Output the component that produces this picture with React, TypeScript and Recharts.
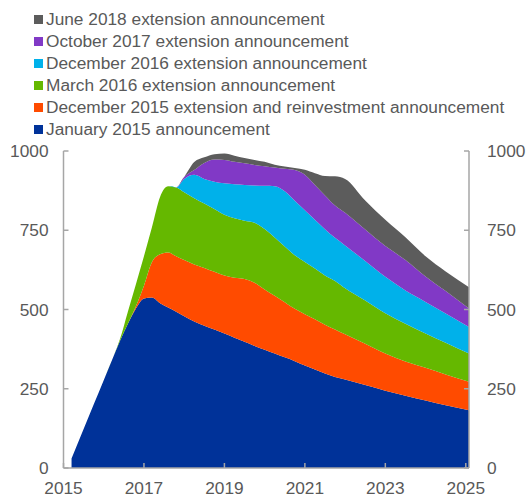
import React from "react";
import { AreaChart, Area, XAxis, YAxis, Legend } from "recharts";

// decimal years
const years = [
  2015.2, 2015.5, 2015.75, 2016.0, 2016.25, 2016.4, 2016.6, 2016.8, 2017.0, 2017.2, 2017.4, 2017.6,
  2017.8, 2018.0, 2018.25, 2018.5, 2018.75, 2019.0, 2019.25, 2019.5, 2019.75, 2020.0, 2020.25,
  2020.5, 2020.75, 2021.0, 2021.25, 2021.5, 2021.75, 2022.0, 2022.5, 2023.0, 2023.5, 2024.0,
  2024.5, 2025.08,
];

const jan2015 = [
  30, 123, 200, 277, 354, 400, 455, 503, 535, 538, 520, 506, 493, 479, 462, 449, 437, 424, 411, 398,
  385, 373, 361, 349, 337, 323, 311, 298, 287, 279, 262, 244, 228, 213, 198, 182,
];
const dec2015 = [
  0, 0, 0, 0, 0, 0, 0, 7, 40, 112, 154, 174, 175, 177, 180, 182, 182, 183, 189, 198, 199, 190, 182,
  174, 165, 162, 158, 154, 150, 143, 130, 117, 108, 103, 97, 90,
];
const mar2016 = [
  0, 0, 0, 0, 0, 5, 38, 70, 93, 110, 181, 209, 217, 214, 209, 203, 198, 192, 188, 184, 190, 191, 184,
  176, 169, 165, 160, 155, 153, 145, 136, 127, 119, 108, 100, 89,
];
const dec2016 = [
  0, 0, 0, 0, 0, 0, 0, 0, 0, 0, 0, 0, 0, 42, 74, 78, 86, 99, 107, 113, 117, 136, 162, 174, 172, 163,
  154, 146, 136, 135, 125, 115, 105, 100, 92, 84,
];
const oct2017 = [
  0, 0, 0, 0, 0, 0, 0, 0, 0, 0, 0, 0, 0, 6, 15, 50, 70, 74, 71, 68, 65, 62, 59, 71, 97, 112, 110, 107,
  102, 103, 99, 97, 96, 80, 71, 58,
];
const jun2018 = [
  0, 0, 0, 0, 0, 0, 0, 0, 0, 0, 0, 0, 0, 0, 25, 18, 17, 20, 19, 17, 16, 14, 9, 7, 6, 16, 37, 61, 92,
  107, 92, 83, 72, 64, 62, 67,
];

const xTicks = [2015, 2017, 2019, 2021, 2023, 2025];
const yTicks = [0, 250, 500, 750, 1000];

const SERIES = [
  { key: "jan2015", name: "January 2015 announcement", color: "#003299", values: jan2015 },
  { key: "dec2015", name: "December 2015 extension and reinvestment announcement", color: "#FF4B00", values: dec2015 },
  { key: "mar2016", name: "March 2016 extension announcement", color: "#65B800", values: mar2016 },
  { key: "dec2016", name: "December 2016 extension announcement", color: "#00B1EA", values: dec2016 },
  { key: "oct2017", name: "October 2017 extension announcement", color: "#8139C6", values: oct2017 },
  { key: "jun2018", name: "June 2018 extension announcement", color: "#5C5C5C", values: jun2018 },
];

const data = years.map((t, i) => {
  const row: Record<string, number> = { t };
  SERIES.forEach((s) => (row[s.key] = s.values[i]));
  return row;
});

const FONT = '"Liberation Sans", Arial, sans-serif';
const TEXT = "#595959";
const AXIS = "#A6A6A6";
const FS = 17.3;

function LegendBox() {
  return (
    <div style={{ height: 143, fontFamily: FONT, fontSize: FS, color: TEXT }}>
      {[...SERIES].reverse().map((s) => (
        <div key={s.key} style={{ display: "flex", alignItems: "center", height: 21.9, whiteSpace: "nowrap" }}>
          <span style={{ display: "inline-block", width: 9, height: 9, background: s.color, marginRight: 3 }} />
          <span>{s.name}</span>
        </div>
      ))}
    </div>
  );
}

function LeftTick({ x, y, payload }: any) {
  return (
    <g>
      <line x1={x} x2={x + 5} y1={y} y2={y} stroke={AXIS} strokeWidth={1.5} />
      <text x={x - 15} y={y} dy="0.35em" textAnchor="end" fill={TEXT} fontSize={FS} fontFamily={FONT}>
        {payload.value}
      </text>
    </g>
  );
}

function RightTick({ x, y, payload }: any) {
  return (
    <g>
      <line x1={x} x2={x - 5} y1={y} y2={y} stroke={AXIS} strokeWidth={1.5} />
      <text x={x + 18} y={y} dy="0.35em" textAnchor="start" fill={TEXT} fontSize={FS} fontFamily={FONT}>
        {payload.value}
      </text>
    </g>
  );
}

function BottomTick({ x, y, payload }: any) {
  return (
    <g>
      <line x1={x} x2={x} y1={y} y2={y - 5} stroke={AXIS} strokeWidth={1.5} />
      <text x={x} y={y + 20} dy="0.35em" textAnchor="middle" fill={TEXT} fontSize={FS} fontFamily={FONT}>
        {payload.value}
      </text>
    </g>
  );
}

export default function App() {
  return (
    <div style={{ position: "absolute", left: 0, top: 0, width: 527, height: 497, background: "#fff" }}>
      <AreaChart width={527} height={497} data={data} margin={{ top: 8, right: 0, bottom: 4, left: 0 }}>
        <Legend
          verticalAlign="top"
          align="left"
          layout="horizontal"
          content={<LegendBox />}
          wrapperStyle={{ left: 34, top: 9, width: 490 }}
        />
        <XAxis
          dataKey="t"
          type="number"
          domain={[2015, 2025.08]}
          ticks={xTicks}
          height={25}
          tickSize={0}
          tickMargin={0}
          tickLine={false}
          axisLine={{ stroke: AXIS, strokeWidth: 1.5 }}
          tick={<BottomTick />}
          allowDataOverflow
        />
        <YAxis
          yAxisId="left"
          orientation="left"
          width={63.5}
          domain={[0, 1000]}
          ticks={yTicks}
          tickSize={0}
          tickMargin={0}
          tickLine={false}
          axisLine={{ stroke: AXIS, strokeWidth: 1.5 }}
          tick={<LeftTick />}
          allowDataOverflow
        />
        <YAxis
          yAxisId="right"
          orientation="right"
          width={58}
          domain={[0, 1000]}
          ticks={yTicks}
          tickSize={0}
          tickMargin={0}
          tickLine={false}
          axisLine={{ stroke: AXIS, strokeWidth: 1.5 }}
          tick={<RightTick />}
          allowDataOverflow
        />
        {SERIES.map((s) => (
          <Area
            key={s.key}
            yAxisId="left"
            dataKey={s.key}
            name={s.name}
            stackId="1"
            type="monotone"
            fill={s.color}
            fillOpacity={1}
            stroke="none"
            dot={false}
            activeDot={false}
            isAnimationActive={false}
          />
        ))}
      </AreaChart>
    </div>
  );
}
